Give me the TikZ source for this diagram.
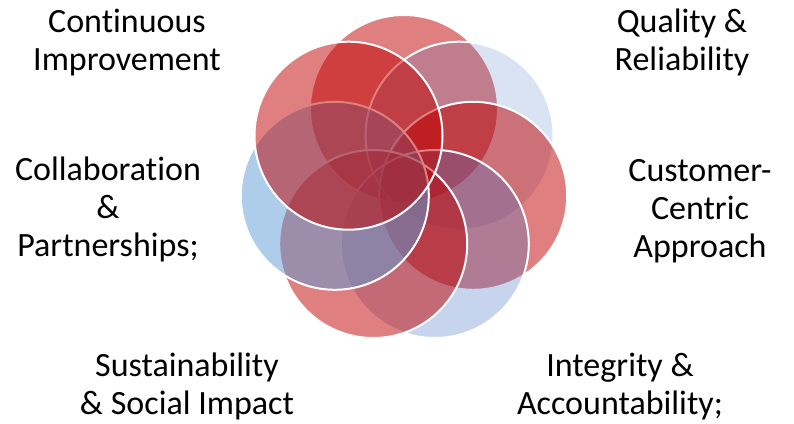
\documentclass[tikz,border=0pt]{standalone}
\usepackage{fontspec}
\setmainfont[Ligatures=NoCommon]{Carlito}
\definecolor{redc}{RGB}{192,0,0}
\definecolor{bluea}{RGB}{68,114,196}
\definecolor{blueb}{RGB}{91,155,213}
\begin{document}
\begin{tikzpicture}[x=1pt,y=-1pt,
  ring/.style={draw=white,line width=2pt,fill=#1},
  lbl/.style={align=center,font=\fontsize{34}{38}\selectfont,text=black,inner sep=0pt}]
\useasboundingbox (0,0) rectangle (794,423);
% seven circles around the centre (404,180), ring radius 71, circle radius 94
\draw[ring=redc,fill opacity=0.5]  (404.0,109.0) circle[radius=94pt];
\draw[ring=bluea,fill opacity=0.2] (459.5,135.7) circle[radius=94pt];
\draw[ring=redc,fill opacity=0.5]  (473.2,195.8) circle[radius=94pt];
\draw[ring=bluea,fill opacity=0.3] (434.8,244.0) circle[radius=94pt];
\draw[ring=redc,fill opacity=0.5]  (373.2,244.0) circle[radius=94pt];
\draw[ring=blueb,fill opacity=0.5] (334.8,195.8) circle[radius=94pt];
\draw[ring=redc,fill opacity=0.5]  (348.5,135.7) circle[radius=94pt];
% labels
\node[lbl] (ci) at (127,42.5) {Continuous\\Improvement};
\node[lbl] (qr) at (682,42.5) {Quality \&\\Reliability};
\node[lbl] (cc) at (700,211) {Customer-\\Centric\\Approach};
\node[lbl] (cp) at (108,209.5) {Collaboration\\\&\\Partnerships;};
\node[lbl] (ss) at (187,386.5) {Sustainability\\\& Social Impact};
\node[lbl] (ia) at (620,386.5) {Integrity \&\\Accountability;};
\end{tikzpicture}
\end{document}
